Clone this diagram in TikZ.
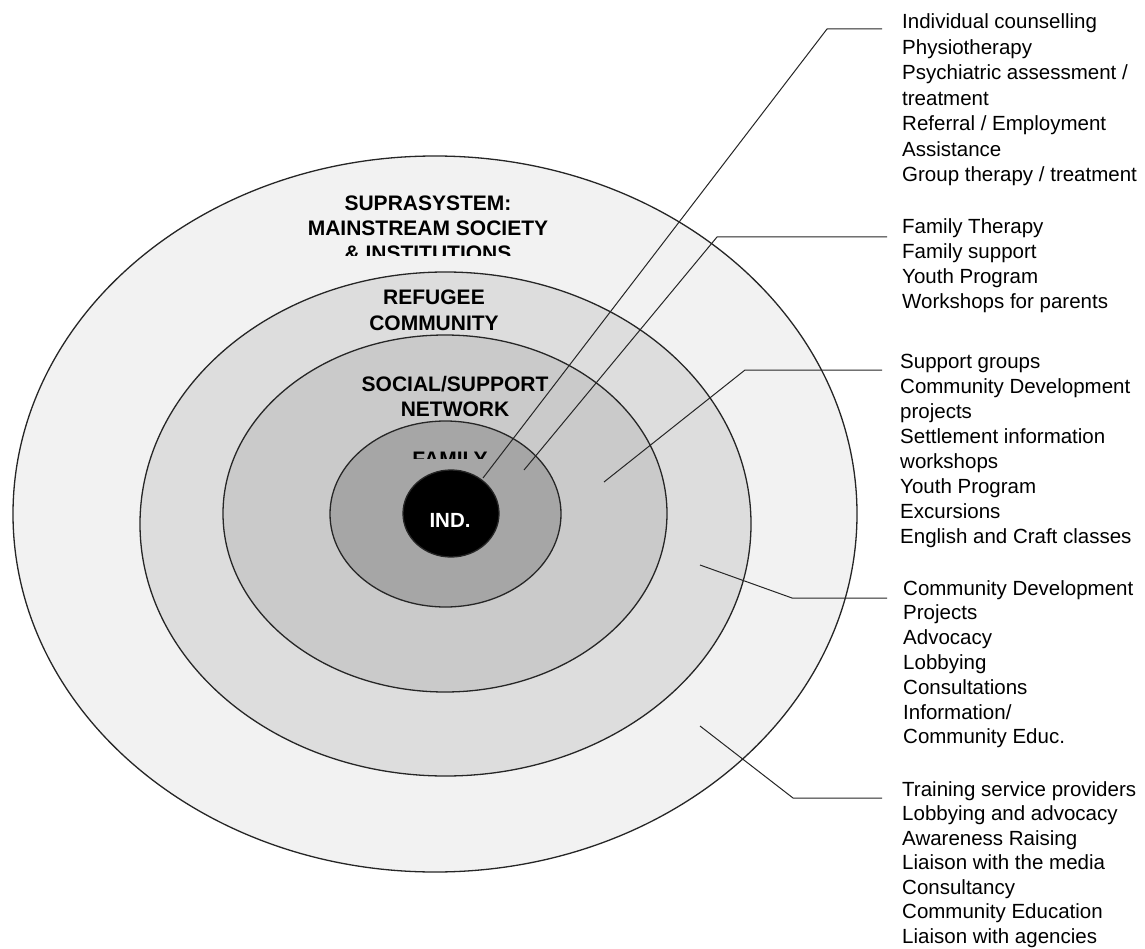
\documentclass[tikz,border=0pt]{standalone}
\usepackage{fontspec}
\setmainfont{Liberation Sans}
\usetikzlibrary{shapes.geometric}
\definecolor{c1}{HTML}{F2F2F2}
\definecolor{c2}{HTML}{DDDDDD}
\definecolor{c3}{HTML}{CACACA}
\definecolor{c4}{HTML}{A6A6A6}
\begin{document}
\begin{tikzpicture}[x=1pt,y=-1pt,
  ring/.style={ellipse, draw=black!85, line width=1.3pt, inner sep=0pt},
  lead/.style={draw=black!85, line width=1pt},
  lbl/.style={inner sep=0pt, font=\fontsize{21}{25}\selectfont\bfseries, anchor=base},
  lst/.style={inner sep=0pt, anchor=base west}]
\useasboundingbox[fill=white] (0,0) rectangle (1145,949);
% rings
\node[ring, fill=c1, minimum width=844pt, minimum height=716pt] (supra) at (435,514) {};
\node[ring, fill=c2, minimum width=611pt, minimum height=504pt] (refugee) at (445.5,524) {};
\node[ring, fill=c3, minimum width=444pt, minimum height=357pt] (social) at (445,513.5) {};
\node[ring, fill=c4, minimum width=231pt, minimum height=186pt] (family) at (445.5,514) {};
\node[ring, fill=black, minimum width=96pt, minimum height=87pt] (ind) at (451,513.5) {};
% ring labels
\begin{scope}
\clip (200,150) rectangle (700,256);
\node[lbl] (supralbl) at (428,211) {\begin{tabular}[t]{@{}c@{}}SUPRASYSTEM:\\MAINSTREAM SOCIETY\\\& INSTITUTIONS\end{tabular}};
\end{scope}
\node[lbl, font=\fontsize{21}{26}\selectfont\bfseries] (reflbl) at (434,305) {\begin{tabular}[t]{@{}c@{}}REFUGEE\\COMMUNITY\end{tabular}};
\node[lbl] (soclbl) at (455,391) {\begin{tabular}[t]{@{}c@{}}SOCIAL/SUPPORT\\NETWORK\end{tabular}};
\begin{scope}
\clip (350,430) rectangle (550,458);
\node[lbl] (famlbl) at (450,466) {FAMILY};
\end{scope}
\node[lbl, font=\fontsize{20.5}{25}\selectfont\bfseries, text=white] (indlbl) at (450,527) {IND.};
% lists
\node[lst, font=\fontsize{20.5}{25.5}\selectfont] (b1) at (902,29) {\begin{tabular}[t]{@{}l@{}}Individual counselling\\Physiotherapy\\Psychiatric assessment /\\treatment\\Referral / Employment\\Assistance\\Group therapy / treatment\end{tabular}};
\node[lst, font=\fontsize{20.5}{25}\selectfont] (b2) at (902,234) {\begin{tabular}[t]{@{}l@{}}Family Therapy\\Family support\\Youth Program\\Workshops for parents\end{tabular}};
\node[lst, font=\fontsize{20.5}{25}\selectfont] (b3) at (900,368) {\begin{tabular}[t]{@{}l@{}}Support groups\\Community Development\\projects\\Settlement information\\workshops\\Youth Program\\Excursions\\English and Craft classes\end{tabular}};
\node[lst, font=\fontsize{20.5}{24.8}\selectfont] (b4) at (903,595) {\begin{tabular}[t]{@{}l@{}}Community Development\\Projects\\Advocacy\\Lobbying\\Consultations\\Information/\\Community Educ.\end{tabular}};
\node[lst, font=\fontsize{20.5}{24.5}\selectfont] (b5) at (902,796) {\begin{tabular}[t]{@{}l@{}}Training service providers\\Lobbying and advocacy\\Awareness Raising\\Liaison with the media\\Consultancy\\Community Education\\Liaison with agencies\end{tabular}};
% leader lines
\coordinate (l1a) at (483,478); \coordinate (l1b) at (827,29); \coordinate (l1c) at (882,29);
\coordinate (l2a) at (524,470); \coordinate (l2b) at (717,237); \coordinate (l2c) at (887,237);
\coordinate (l3a) at (604,482); \coordinate (l3b) at (745,370); \coordinate (l3c) at (882,370);
\coordinate (l4a) at (700,565); \coordinate (l4b) at (792,598); \coordinate (l4c) at (887,598);
\coordinate (l5a) at (700,726); \coordinate (l5b) at (793,798); \coordinate (l5c) at (882,798);
\draw[lead] (l1a) -- (l1b) -- (l1c);
\draw[lead] (l2a) -- (l2b) -- (l2c);
\draw[lead] (l3a) -- (l3b) -- (l3c);
\draw[lead] (l4a) -- (l4b) -- (l4c);
\draw[lead] (l5a) -- (l5b) -- (l5c);
\end{tikzpicture}
\end{document}
